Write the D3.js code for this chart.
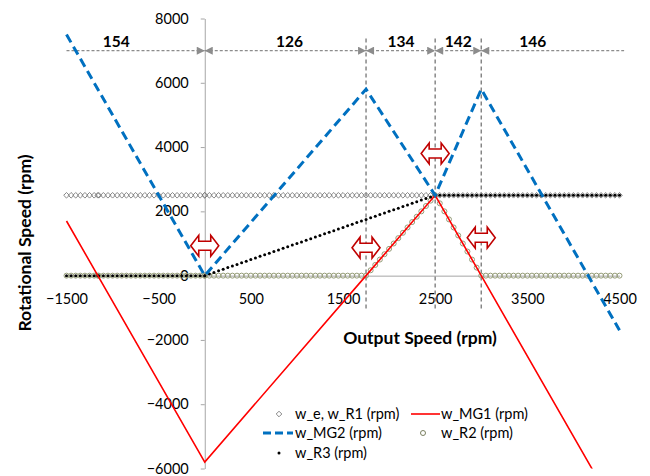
<!DOCTYPE html>
<html>
<head>
<meta charset="utf-8">
<script src="https://cdn.jsdelivr.net/npm/d3@7"></script>
<style>
  body { margin: 0; background: #fff; }
  text { font-family: Lato, "Open Sans", sans-serif; }
</style>
</head>
<body>
<div id="chart"></div>
<script>
// output speed samples (rpm)
var outSpeed = [
  -1500,-1450,-1400,-1350,-1300,-1250,-1200,-1150,-1100,-1050,
  -1000,-950,-900,-850,-800,-750,-700,-650,-600,-550,
  -500,-450,-400,-350,-300,-250,-200,-150,-100,-50,
  0,50,100,150,200,250,300,350,400,450,
  500,550,600,650,700,750,800,850,900,950,
  1000,1050,1100,1150,1200,1250,1300,1350,1400,1450,
  1500,1550,1600,1650,1700,1750,1800,1850,1900,1950,
  2000,2050,2100,2150,2200,2250,2300,2350,2400,2450,
  2500,2550,2600,2650,2700,2750,2800,2850,2900,2950,
  3000,3050,3100,3150,3200,3250,3300,3350,3400,3450,
  3500,3550,3600,3650,3700,3750,3800,3850,3900,3950,
  4000,4050,4100,4150,4200,4250,4300,4350,4400,4450,
  4500
];
var wE = [
  2500,2500,2500,2500,2500,2500,2500,2500,2500,2500,
  2500,2500,2500,2500,2500,2500,2500,2500,2500,2500,
  2500,2500,2500,2500,2500,2500,2500,2500,2500,2500,
  2500,2500,2500,2500,2500,2500,2500,2500,2500,2500,
  2500,2500,2500,2500,2500,2500,2500,2500,2500,2500,
  2500,2500,2500,2500,2500,2500,2500,2500,2500,2500,
  2500,2500,2500,2500,2500,2500,2500,2500,2500,2500,
  2500,2500,2500,2500,2500,2500,2500,2500,2500,2500,
  2500,2500,2500,2500,2500,2500,2500,2500,2500,2500,
  2500,2500,2500,2500,2500,2500,2500,2500,2500,2500,
  2500,2500,2500,2500,2500,2500,2500,2500,2500,2500,
  2500,2500,2500,2500,2500,2500,2500,2500,2500,2500,
  2500
];
var wR2 = [
  0,0,0,0,0,0,0,0,0,0,
  0,0,0,0,0,0,0,0,0,0,
  0,0,0,0,0,0,0,0,0,0,
  0,0,0,0,0,0,0,0,0,0,
  0,0,0,0,0,0,0,0,0,0,
  0,0,0,0,0,0,0,0,0,0,
  0,0,0,0,0,0,167,333,500,667,
  833,1000,1167,1333,1500,1667,1833,2000,2167,2333,
  2500,2250,2000,1750,1500,1250,1000,750,500,250,
  0,0,0,0,0,0,0,0,0,0,
  0,0,0,0,0,0,0,0,0,0,
  0,0,0,0,0,0,0,0,0,0,
  0
];
var wR3 = [
  0,0,0,0,0,0,0,0,0,0,
  0,0,0,0,0,0,0,0,0,0,
  0,0,0,0,0,0,0,0,0,0,
  0,50,100,150,200,250,300,350,400,450,
  500,550,600,650,700,750,800,850,900,950,
  1000,1050,1100,1150,1200,1250,1300,1350,1400,1450,
  1500,1550,1600,1650,1700,1750,1800,1850,1900,1950,
  2000,2050,2100,2150,2200,2250,2300,2350,2400,2450,
  2500,2500,2500,2500,2500,2500,2500,2500,2500,2500,
  2500,2500,2500,2500,2500,2500,2500,2500,2500,2500,
  2500,2500,2500,2500,2500,2500,2500,2500,2500,2500,
  2500,2500,2500,2500,2500,2500,2500,2500,2500,2500,
  2500
];
// extra samples where MG1 / MG2 cross zero (show as darker overlaps)
var extraSpeed = [-1160, 0];
var extraE = [2500, 2500];
var extraR2 = [0, 0];
var extraR3 = [0, 0];

// motor speeds (line series, break points)
var mgSpeed = [-1500, 0, 1750, 2500, 3000, 4500];
var wMG1 = [1700, -5800, 0, 2500, 0, -7500];
var wMG2 = [7500, 0, 5800, 2500, 5800, -1700];

// mode boundaries and ratios on top
var modeBounds = [-1500, 0, 1750, 2500, 3000, 4550];
var modeLabels = ["154", "126", "134", "142", "146"];
var modeLabelAt = [-960, 920, 2130, 2750, 3560];
var switchSpeed = [1750, 2500, 3000];

// red shift arrows
var shiftX = [0, 1750, 2500, 3000];
var shiftY = [930, 870, 3800, 1180];

var xTicks = [-1500, -500, 500, 1500, 2500, 3500, 4500];
var yTicks = [-6000, -4000, -2000, 0, 2000, 4000, 6000, 8000];

var width = 650, height = 476;

var svg = d3.select("#chart").append("svg")
  .attr("width", width)
  .attr("height", height);

var x = d3.scaleLinear().domain([-1500, 4500]).range([66.5, 619.5]);
var y = d3.scaleLinear().domain([-6000, 8000]).range([468.5, 18.5]);

var defs = svg.append("defs");
defs.append("clipPath").attr("id", "plot")
  .append("rect").attr("x", 0).attr("y", y(8000)).attr("width", width).attr("height", y(-6000) - y(8000));
defs.append("marker")
  .attr("id", "ah")
  .attr("viewBox", "0 0 10 10")
  .attr("refX", 10).attr("refY", 5)
  .attr("markerWidth", 9).attr("markerHeight", 8)
  .attr("markerUnits", "userSpaceOnUse")
  .attr("orient", "auto-start-reverse")
  .append("path").attr("d", "M0,0 L10,5 L0,10 Z").attr("fill", "#8c8c8c");

// axes
var yAxis = svg.append("g")
  .attr("transform", "translate(" + x(0) + ",0)")
  .call(d3.axisLeft(y).tickValues(yTicks).tickSize(4).tickSizeOuter(0).tickPadding(12).tickFormat(d3.format("d")));
var xAxis = svg.append("g")
  .attr("transform", "translate(0," + y(0) + ")")
  .call(d3.axisBottom(x).tickValues(xTicks).tickSize(0).tickSizeOuter(0).tickPadding(18).tickFormat(d3.format("d")));

[yAxis, xAxis].forEach(function(g){
  g.selectAll("path, line").attr("stroke", "#a6a6a6");
  g.selectAll("text").attr("font-size", 14.5).attr("fill", "#000")
    .style("font-family", "Lato, 'Open Sans', sans-serif");
});

// dimension line on top
var dimY = y(7000);
var dim = svg.append("g");
modeBounds.slice(0, -1).forEach(function(b, i){
  var seg = dim.append("line")
    .attr("x1", x(b)).attr("x2", x(modeBounds[i + 1]))
    .attr("y1", dimY).attr("y2", dimY)
    .attr("stroke", "#8c8c8c").attr("stroke-width", 1.3)
    .attr("stroke-dasharray", "3,2");
  if (i < modeBounds.length - 2) seg.attr("marker-end", "url(#ah)");
  if (i > 0) seg.attr("marker-start", "url(#ah)");
});
dim.selectAll("text")
  .data(modeLabels)
  .enter().append("text")
  .attr("x", function(d, i){ return x(modeLabelAt[i]); })
  .attr("y", dimY - 4)
  .attr("text-anchor", "middle")
  .attr("font-size", 15.5).attr("font-weight", "bold")
  .text(function(d){ return d; });

svg.append("g").selectAll("line")
  .data(switchSpeed)
  .enter().append("line")
  .attr("x1", function(d){ return x(d); }).attr("x2", function(d){ return x(d); })
  .attr("y1", y(7380)).attr("y2", y(-1100))
  .attr("stroke", "#7f7f7f").attr("stroke-width", 1.4)
  .attr("stroke-dasharray", "4,3");

var plot = svg.append("g").attr("clip-path", "url(#plot)");

var diamond = "M0,-2.8L2.8,0L0,2.8L-2.8,0Z";

function pts(xs, ys){ return xs.map(function(v, i){ return [v, ys[i]]; }); }

// w_R2 circles
plot.append("g").selectAll("circle")
  .data(pts(outSpeed, wR2).concat(pts(extraSpeed, extraR2)))
  .enter().append("circle")
  .attr("cx", function(d){ return x(d[0]); })
  .attr("cy", function(d){ return y(d[1]); })
  .attr("r", 2.5)
  .attr("fill", "none").attr("stroke", "#959c78").attr("stroke-width", 1);

// w_e diamonds
plot.append("g").selectAll("path")
  .data(pts(outSpeed, wE).concat(pts(extraSpeed, extraE)))
  .enter().append("path")
  .attr("d", diamond)
  .attr("transform", function(d){ return "translate(" + x(d[0]) + "," + y(d[1]) + ")"; })
  .attr("fill", "none").attr("stroke", "#7a7a7a").attr("stroke-width", 0.9);

// w_R3 dots
plot.append("g").selectAll("circle")
  .data(pts(outSpeed, wR3).concat(pts(extraSpeed, extraR3)))
  .enter().append("circle")
  .attr("cx", function(d){ return x(d[0]); })
  .attr("cy", function(d){ return y(d[1]); })
  .attr("r", 1.5)
  .attr("fill", "#000");

var line = d3.line().x(function(d){ return x(d[0]); }).y(function(d){ return y(d[1]); });

plot.append("path")
  .datum(pts(mgSpeed, wMG1))
  .attr("d", line)
  .attr("fill", "none").attr("stroke", "#ff0000").attr("stroke-width", 1.6);

plot.append("path")
  .datum(pts(mgSpeed, wMG2))
  .attr("d", line)
  .attr("fill", "none").attr("stroke", "#0070c0").attr("stroke-width", 3)
  .attr("stroke-dasharray", "9,5");

// shift arrows
var dblArrow = "M-14,0L-6,-10.5L-6,-4.5L6,-4.5L6,-10.5L14,0L6,10.5L6,4.5L-6,4.5L-6,10.5Z";
svg.append("g").selectAll("path")
  .data(shiftX)
  .enter().append("path")
  .attr("d", dblArrow)
  .attr("transform", function(d, i){ return "translate(" + x(d) + "," + y(shiftY[i]) + ")"; })
  .attr("fill", "#fff").attr("stroke", "#c00000").attr("stroke-width", 1.6)
  .attr("stroke-linejoin", "miter");

// axis titles
svg.append("text")
  .attr("x", 420).attr("y", 344)
  .attr("text-anchor", "middle")
  .attr("font-size", 17.5).attr("font-weight", "bold")
  .text("Output Speed (rpm)");
svg.append("text")
  .attr("transform", "translate(31,243) rotate(-90)")
  .attr("text-anchor", "middle")
  .attr("font-size", 17.5).attr("font-weight", "bold")
  .text("Rotational Speed (rpm)");

// legend
var legend = svg.append("g").attr("font-size", 14.5);
legend.append("path").attr("d", diamond).attr("transform", "translate(279,414)")
  .attr("fill", "none").attr("stroke", "#7a7a7a").attr("stroke-width", 0.9);
legend.append("text").attr("x", 295).attr("y", 419).text("w_e, w_R1 (rpm)");
legend.append("line").attr("x1", 411).attr("x2", 440).attr("y1", 414).attr("y2", 414)
  .attr("stroke", "#ff0000").attr("stroke-width", 1.6);
legend.append("text").attr("x", 441).attr("y", 419).text("w_MG1 (rpm)");
legend.append("line").attr("x1", 263).attr("x2", 293).attr("y1", 433).attr("y2", 433)
  .attr("stroke", "#0070c0").attr("stroke-width", 3).attr("stroke-dasharray", "8,4");
legend.append("text").attr("x", 295).attr("y", 438).text("w_MG2 (rpm)");
legend.append("circle").attr("cx", 423).attr("cy", 433).attr("r", 2.5)
  .attr("fill", "none").attr("stroke", "#7a8060").attr("stroke-width", 1);
legend.append("text").attr("x", 441).attr("y", 438).text("w_R2 (rpm)");
legend.append("circle").attr("cx", 279).attr("cy", 453).attr("r", 1.5).attr("fill", "#000");
legend.append("text").attr("x", 295).attr("y", 458).text("w_R3 (rpm)");
</script>
</body>
</html>
